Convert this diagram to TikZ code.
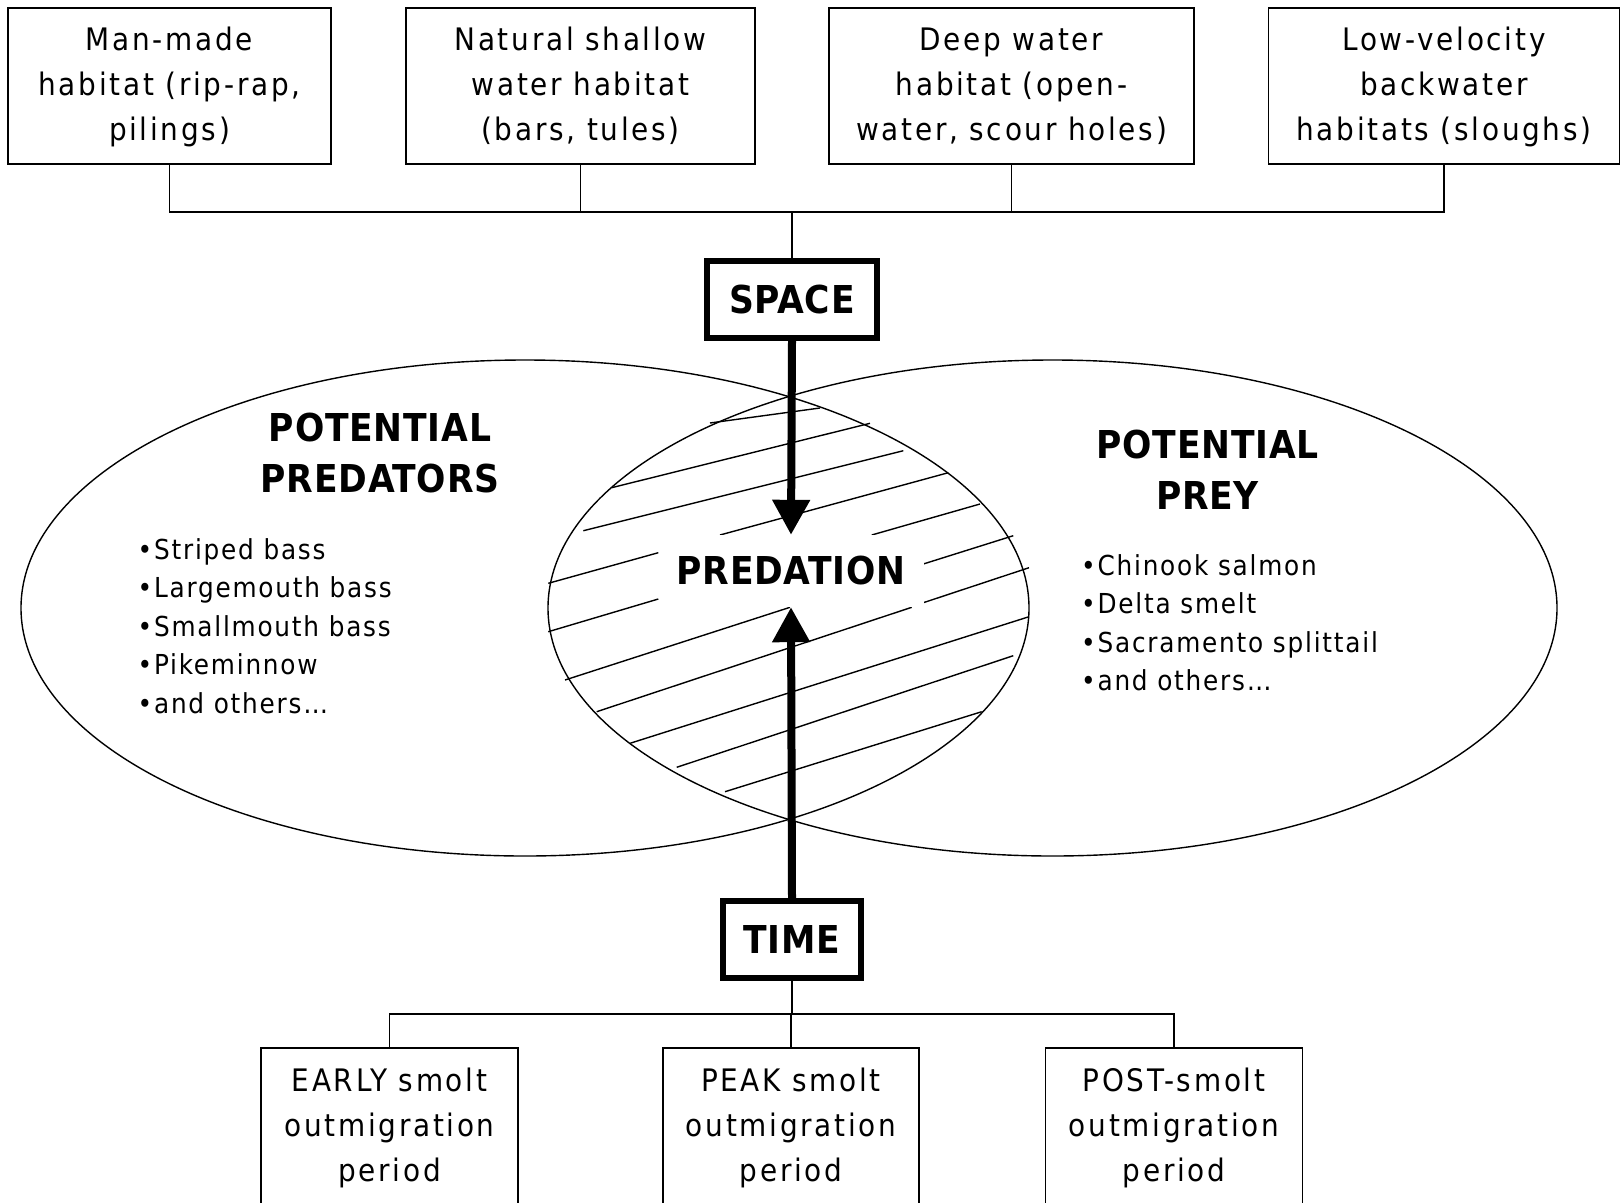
\documentclass[tikz,border=0pt]{standalone}
\usepackage{fontspec}
\setmainfont{DejaVu Sans Condensed}
\newfontfamily\boxfont{DejaVu Sans Condensed}[LetterSpace=8.8]
\newfontfamily\listfont{DejaVu Sans Condensed}[LetterSpace=6.5]
\newfontfamily\headfont{DejaVu Sans Condensed}[LetterSpace=2]
\usetikzlibrary{arrows.meta,shapes.geometric}
\newcommand\boxlines[1]{\raisebox{-5pt}{\begin{tabular}{@{}c@{}}#1\end{tabular}}}
\begin{document}
\begin{tikzpicture}[x=1pt,y=-1pt,
  thinln/.style={line width=1.4pt},
  habbox/.style={draw, line width=1.4pt, inner sep=0pt,
    font=\boxfont\fontsize{31}{45}\selectfont},
  keybox/.style={draw, line width=6pt, inner sep=0pt,
    font=\headfont\bfseries\fontsize{38.4}{50}\selectfont},
  oval/.style={draw, ellipse, line width=1.4pt, inner sep=0pt},
  heading/.style={align=center, inner sep=0pt, font=\headfont\bfseries\fontsize{38.4}{51}\selectfont},
  listtxt/.style={align=left, inner sep=0pt, anchor=west, font=\listfont\fontsize{27.5}{38.5}\selectfont},
  bigarrow/.style={line width=8pt, -{Triangle[width=36pt,length=35pt]}}
]
\fill[white] (0,0) rectangle (1621,1202);
\clip (0,0) rectangle (1621,1202);

% habitat boxes
\node[habbox, minimum width=323pt, minimum height=156pt] (h1) at (169.5,86) {\boxlines{Man-made\\habitat (rip-rap,\\pilings)}};
\node[habbox, minimum width=349pt, minimum height=156pt] (h2) at (580.5,86) {\boxlines{Natural shallow\\water habitat\\(bars, tules)}};
\node[habbox, minimum width=365pt, minimum height=156pt] (h3) at (1011.5,86) {\boxlines{Deep water\\habitat (open-\\water, scour holes)}};
\node[habbox, minimum width=351pt, minimum height=156pt] (h4) at (1444,86) {\boxlines{Low-velocity\\backwater\\habitats (sloughs)}};
\coordinate (busT) at (792,212);

% key boxes
\node[keybox, minimum width=170pt, minimum height=77pt] (space) at (792,299.5) {SPACE};
\node[keybox, minimum width=137.5pt, minimum height=77pt] (time) at (792,939.5) {TIME};

% ellipses
\node[oval, minimum width=1008pt, minimum height=496pt] (predE) at (525,608) {};
\node[oval, minimum width=1009pt, minimum height=496pt] (preyE) at (1052.5,608) {};

% hatching
\draw[thinln] (710,423) -- (820,408);
\draw[thinln] (611.7,487.7) -- (870,423.3);
\draw[thinln] (583.3,530.7) -- (903.3,450.7);
\draw[thinln] (720,535) -- (948.3,472.7);
\draw[thinln] (871.7,535) -- (980,504);
\draw[thinln] (548.3,583.3) -- (658.3,552.7);
\draw[thinln] (923.3,564) -- (1013.3,535.7);
\draw[thinln] (548.3,631.7) -- (658.3,599);
\draw[thinln] (923.3,602.7) -- (1029,567.7);
\draw[thinln] (565,680) -- (790,607.3);
\draw[thinln] (596.7,711.7) -- (911.7,607.3);
\draw[thinln] (630,743.3) -- (1029,616.7);
\draw[thinln] (676.7,767.3) -- (1013.3,655.7);
\draw[thinln] (725,791.7) -- (981.7,711.7);

\node[fill=white, inner sep=0pt, minimum width=265pt, minimum height=72pt,
  font=\headfont\bfseries\fontsize{38.4}{50}\selectfont] (pred) at (791,571) {PREDATION};

% headings and lists
\node[heading] (hPred) at (380,453.5) {POTENTIAL\\PREDATORS};
\node[heading] (hPrey) at (1207.5,470) {POTENTIAL\\PREY};
\node[listtxt] (lPred) at (137.5,626) {•Striped bass\\•Largemouth bass\\•Smallmouth bass\\•Pikeminnow\\•and others\dots};
\node[listtxt] (lPrey) at (1081,622.5) {•Chinook salmon\\•Delta smelt\\•Sacramento splittail\\•and others\dots};

% period boxes
\node[habbox, minimum width=257pt, minimum height=158pt] (p1) at (389.5,1127) {\boxlines{EARLY smolt\\outmigration\\period}};
\node[habbox, minimum width=256pt, minimum height=158pt] (p2) at (791,1127) {\boxlines{PEAK smolt\\outmigration\\period}};
\node[habbox, minimum width=256.5pt, minimum height=158pt] (p3) at (1174,1127) {\boxlines{POST-smolt\\outmigration\\period}};
\coordinate (busB) at (792,1014);

% connectors
\draw[thinln] (h1.south) -- (h1.south |- busT) -- (h4.south |- busT) -- (h4.south);
\draw[thinln] (h2.south) -- (h2.south |- busT);
\draw[thinln] (h3.south) -- (h3.south |- busT);
\draw[thinln] (space.north) -- (busT);
\draw[thinln] (time.south) -- (busB);
\draw[thinln] (p1.north) -- (p1.north |- busB) -- (p3.north |- busB) -- (p3.north);
\draw[thinln] (p2.north) -- (p2.north |- busB);

\draw[bigarrow] (space.south) -- (pred.north);
\draw[bigarrow] (time.north) -- (pred.south);
\end{tikzpicture}
\end{document}
